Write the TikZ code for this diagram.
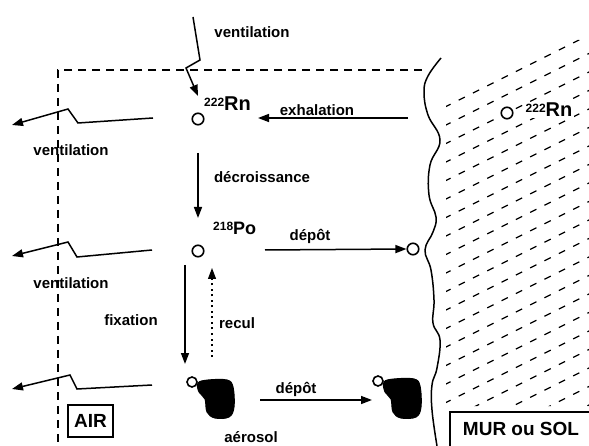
\documentclass[tikz,border=0pt]{standalone}
\usepackage{fontspec}
\setmainfont{Liberation Sans}
\usetikzlibrary{arrows.meta}
\begin{document}
\begin{tikzpicture}[x=1pt,y=-1pt,
  lbl/.style={font=\fontsize{15}{15}\selectfont\bfseries, inner sep=0pt},
  iso/.style={font=\fontsize{20}{20}\selectfont\bfseries, inner sep=0pt},
  atom/.style={circle, draw, fill=white, line width=1.6pt, minimum size=11.5pt, inner sep=0pt},
  arr/.style={line width=1.5pt, -{Triangle[length=11pt,width=8pt]}},
  vent/.style={line width=1.5pt, -{Triangle[length=11pt,width=8pt]}},
  bound/.style={line width=1.3pt, dash pattern=on 8pt off 6pt},
  hatch/.style={line width=1.2pt, dash pattern=on 7pt off 9pt},
  box/.style={draw, line width=1.5pt, inner sep=0pt},
  blob/.style={fill=black, draw=black, line width=1pt}]
\useasboundingbox (0,0) rectangle (589,446);
\fill[white] (0,0) rectangle (589,446);

% hatching of the wall / soil
\begin{scope}
  \clip (446,96) -- (570,40) -- (589,40) -- (589,406) -- (446,406) -- cycle;
  \foreach \k in {-4,...,26}{
    \draw[hatch] (430,{96+18.5*\k}) -- (600,{96+18.5*\k-85});
  }
\end{scope}

% wall surface
\draw[line width=1.5pt] plot[smooth, tension=0.7] coordinates {
  (441,58) (428,76) (424,92) (428,115) (440,140) (430,165) (429,195)
  (436,217) (433,232) (425,250) (431,270) (434,300) (433,323) (440,340)
  (437,368) (432,385) (432,410) (437,446)};

% boundary of the air volume
\coordinate (bTL) at (58,70);
\coordinate (bTR) at (422,70);
\coordinate (bBL) at (58,446);
\draw[bound] (bTR) -- (bTL) -- (bBL);

% atoms
\node[atom] (rnA) at (198,119) {};
\node[atom] (po) at (198,251) {};
\node[atom] (poW) at (413,249) {};
\node[atom] (rnW) at (507,113) {};
\node[atom, minimum size=10pt] (aeroA) at (192,382) {};
\node[atom, minimum size=10pt] (aeroB) at (378,381) {};

% aerosol particles
\draw[blob] plot[smooth cycle, tension=0.6] coordinates {
  (198,383) (208,380) (227,380) (233,387) (234,407) (229,417) (215,418)
  (207,412) (205,399) (199,392)};
\draw[blob] plot[smooth cycle, tension=0.6] coordinates {
  (384,382) (394,379) (414,379) (420,386) (421,407) (416,417) (401,418)
  (393,412) (391,399) (385,392)};

% labels
\node[lbl] (tVent) at (252,32) {ventilation};
\node[iso, anchor=west] (lRnA) at (204,104) {\raisebox{0.42ex}{\fontsize{12}{12}\selectfont 222}Rn};
\node[lbl] (tExh) at (317,110) {exhalation};
\node[lbl] (tVent1) at (71,150) {ventilation};
\node[lbl] (tDec) at (262,177) {décroissance};
\node[iso, anchor=west, font=\fontsize{18}{18}\selectfont\bfseries] (lPo) at (213,228) {\raisebox{0.42ex}{\fontsize{12}{12}\selectfont 218}Po};
\node[lbl] (tDep1) at (310,236) {dépôt};
\node[lbl] (tVent2) at (71,283) {ventilation};
\node[lbl] (tFix) at (131,320) {fixation};
\node[lbl] (tRec) at (237,323) {recul};
\node[lbl] (tDep2) at (296,389) {dépôt};
\node[lbl] (tAer) at (251,437) {aérosol};
\node[iso, anchor=west, fill=white, inner sep=1.5pt] (lRnW) at (524,110) {\raisebox{0.42ex}{\fontsize{12}{12}\selectfont 222}Rn};

% boxes
\node[box, minimum width=45pt, minimum height=32pt, font=\fontsize{19}{19}\selectfont\bfseries] (air) at (90.5,421) {AIR};
\coordinate (murA) at (595,412);
\coordinate (murB) at (450,412);
\coordinate (murC) at (450,452);
\draw[line width=1.5pt] (murA) -- (murB) -- (murC);
\node[font=\fontsize{19}{19}\selectfont\bfseries, inner sep=0pt] (mur) at (521,429) {MUR ou SOL};

% ventilation zig-zag arrows
\coordinate (v0a) at (193,17);  \coordinate (v0b) at (200,60);  \coordinate (v0c) at (186,68); \coordinate (v0d) at (198,96);
\draw[vent] (v0a) -- (v0b) -- (v0c) -- (v0d);
\coordinate (v1a) at (153,118); \coordinate (v1b) at (78,123);  \coordinate (v1c) at (68,109); \coordinate (v1d) at (12,125);
\draw[vent] (v1a) -- (v1b) -- (v1c) -- (v1d);
\coordinate (v2a) at (152,250); \coordinate (v2b) at (77,257);  \coordinate (v2c) at (68,242); \coordinate (v2d) at (12,256);
\draw[vent] (v2a) -- (v2b) -- (v2c) -- (v2d);
\coordinate (v3a) at (152,385); \coordinate (v3b) at (77,389);  \coordinate (v3c) at (70,375); \coordinate (v3d) at (12,389);
\draw[vent] (v3a) -- (v3b) -- (v3c) -- (v3d);

% process arrows
\coordinate (exhS) at (408,118);
\coordinate (exhE) at (258,118);
\draw[arr] (exhS) -- (exhE);
\coordinate (decS) at (198,153);
\coordinate (decE) at (198,218);
\draw[arr] (decS) -- (decE);
\coordinate (dep1S) at (265,250);
\draw[arr] (dep1S) -- (poW.west);
\coordinate (fixS) at (185,265);
\coordinate (fixE) at (185,364);
\draw[arr] (fixS) -- (fixE);
\coordinate (recS) at (212,357);
\coordinate (recE) at (212,268);
\draw[line width=1.2pt, dash pattern=on 2pt off 3.5pt, -{Triangle[length=11pt,width=8pt]}] (recS) -- (recE);
\coordinate (dep2S) at (260,400);
\coordinate (dep2E) at (372,400);
\draw[arr] (dep2S) -- (dep2E);
\end{tikzpicture}
\end{document}
